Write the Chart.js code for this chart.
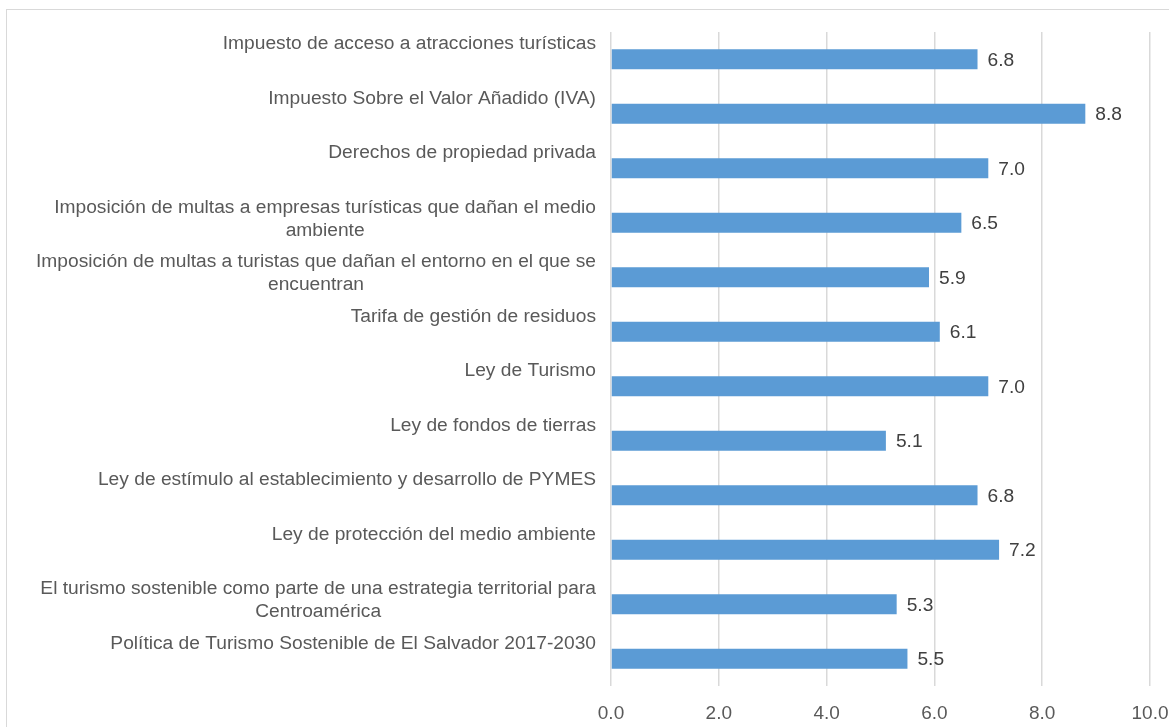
<!DOCTYPE html>
<html>
<head>
<meta charset="utf-8">
<script src="https://cdn.jsdelivr.net/npm/chart.js@4"></script>
<style>
  body { margin: 0; background: #fff; }
  .frame { position: absolute; left: 6px; top: 9px; width: 1170px; height: 730px; border: 1px solid #d9d9d9; }
  .chart-box { position: absolute; left: 0; top: 0; width: 1169px; height: 727px; }
</style>
</head>
<body>
<div class="frame"></div>
<div class="chart-box"><canvas id="myChart"></canvas></div>
<script>
const categories = [
  'Impuesto de acceso a atracciones turísticas',
  'Impuesto Sobre el Valor Añadido (IVA)',
  'Derechos de propiedad privada',
  ['Imposición de multas a empresas turísticas que dañan el medio', 'ambiente'],
  ['Imposición de multas a turistas que dañan el entorno en el que se', 'encuentran'],
  'Tarifa de gestión de residuos',
  'Ley de Turismo',
  'Ley de fondos de tierras',
  'Ley de estímulo al establecimiento y desarrollo de PYMES',
  'Ley de protección del medio ambiente',
  ['El turismo sostenible como parte de una estrategia territorial para', 'Centroamérica'],
  'Política de Turismo Sostenible de El Salvador 2017-2030'
];
const scores = [6.8, 8.8, 7.0, 6.5, 5.9, 6.1, 7.0, 5.1, 6.8, 7.2, 5.3, 5.5];
const xTicks = [0, 2, 4, 6, 8, 10];

const FONT = '"Liberation Sans", Arial, sans-serif';

// labels sit at the top of each band, values to the right of the bars
const sideLabels = {
  id: 'sideLabels',
  afterDraw(chart) {
    const { ctx, chartArea } = chart;
    const y = chart.scales.y;
    const band = y.getPixelForValue(1) - y.getPixelForValue(0);
    ctx.save();
    ctx.font = '19.2px ' + FONT;
    ctx.fillStyle = '#595959';
    ctx.textAlign = 'center';
    ctx.textBaseline = 'alphabetic';
    categories.forEach((lab, i) => {
      const lines = [].concat(lab);
      const w = Math.max(...lines.map(l => ctx.measureText(l).width));
      const cx = chartArea.left - 15 - w / 2;
      const top = y.getPixelForValue(i) - band / 2;
      lines.forEach((l, k) => ctx.fillText(l, cx, top + 17 + k * 23));
    });

    const meta = chart.getDatasetMeta(0);
    ctx.fillStyle = '#404040';
    ctx.textAlign = 'left';
    ctx.textBaseline = 'middle';
    meta.data.forEach((bar, i) => {
      ctx.fillText(scores[i].toFixed(1), bar.x + 10, bar.y + 1);
    });
    ctx.restore();
  }
};

const ctx = document.getElementById('myChart').getContext('2d');
new Chart(ctx, {
  type: 'bar',
  data: {
    labels: categories,
    datasets: [{
      data: scores,
      backgroundColor: '#5b9bd5',
      borderColor: '#5b9bd5',
      borderWidth: 0,
      barPercentage: 0.37,
      categoryPercentage: 1
    }]
  },
  options: {
    indexAxis: 'y',
    responsive: true,
    maintainAspectRatio: false,
    animation: false,
    layout: { padding: { top: 32, right: 0, left: 0, bottom: 0 } },
    plugins: {
      legend: { display: false },
      tooltip: { enabled: false }
    },
    scales: {
      x: {
        min: 0,
        max: 10,
        afterBuildTicks: (scale) => { scale.ticks = xTicks.map(v => ({ value: v })); },
        ticks: {
          color: '#595959',
          font: { family: FONT, size: 19 },
          padding: 16,
          callback: (v) => Number(v).toFixed(1)
        },
        grid: { color: '#d9d9d9', lineWidth: 1.5, drawTicks: false },
        border: { display: false },
        afterFit: (scale) => {
          scale.height = 41;
          scale.paddingLeft = 0;
          scale.paddingRight = 19;
        }
      },
      y: {
        ticks: { display: false },
        grid: { display: false },
        border: { display: false },
        afterFit: (scale) => { scale.width = 611; }
      }
    }
  },
  plugins: [sideLabels]
});
</script>
</body>
</html>
